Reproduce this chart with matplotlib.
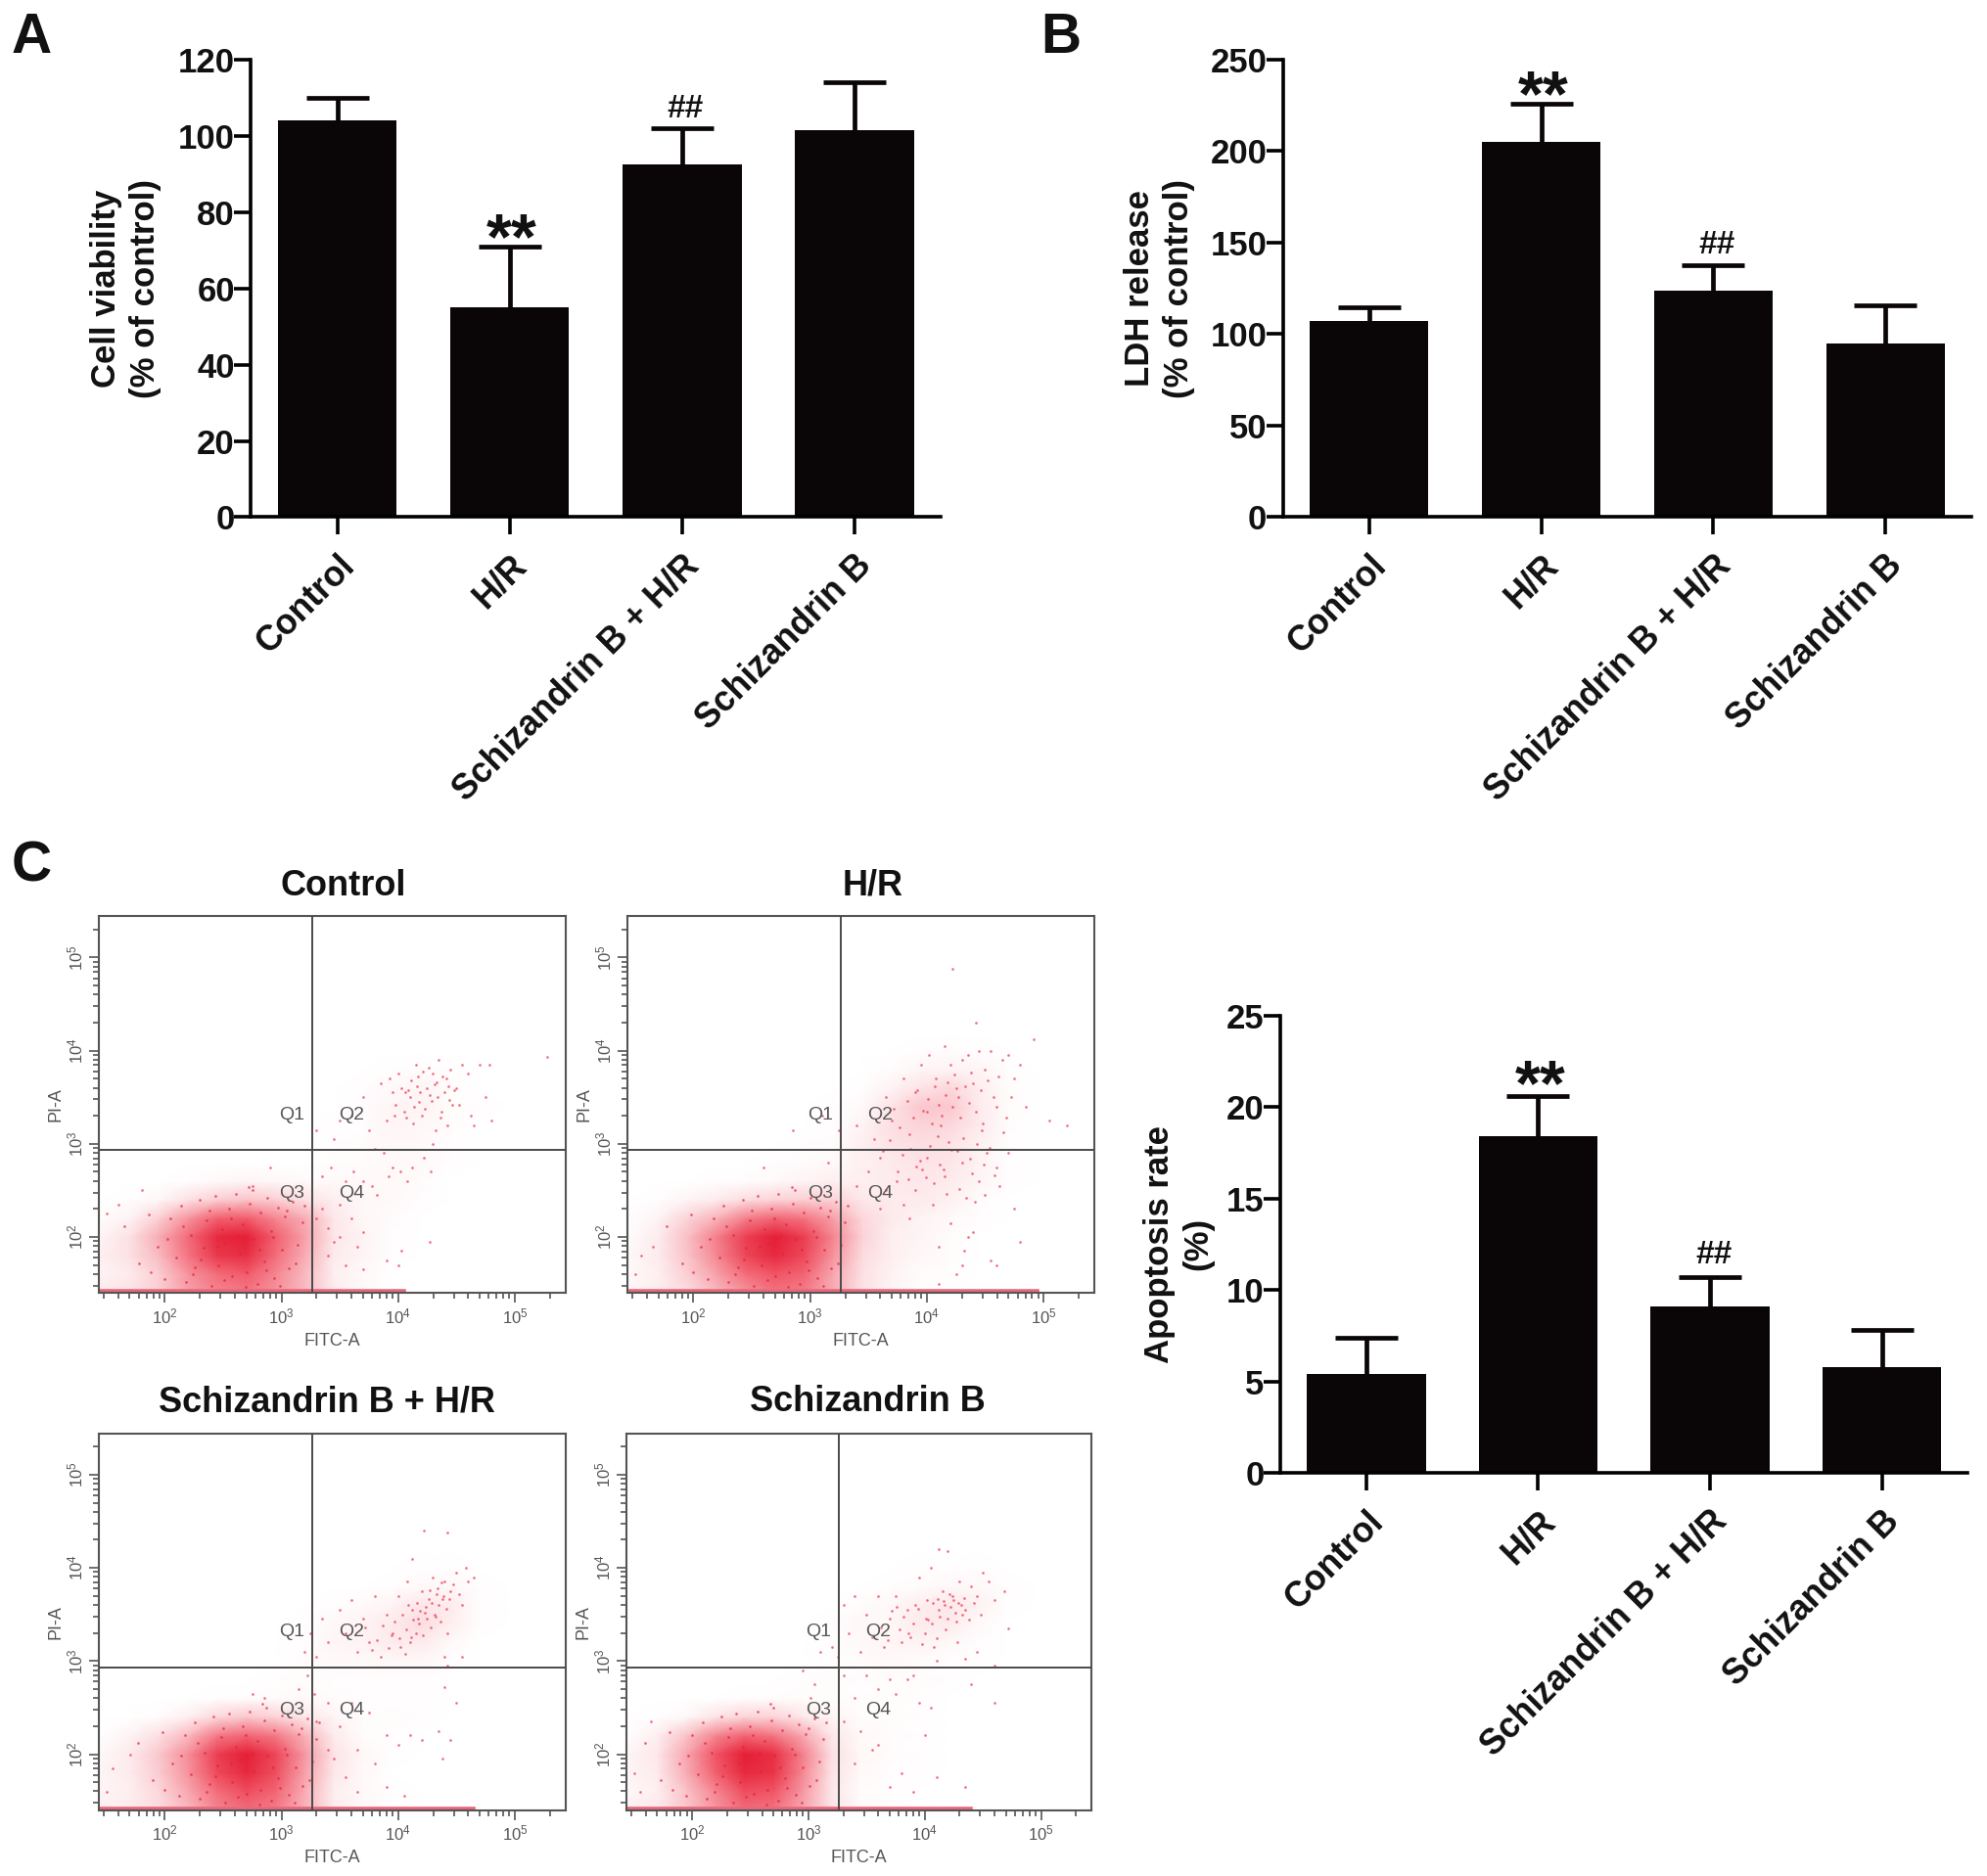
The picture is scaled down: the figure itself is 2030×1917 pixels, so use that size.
import numpy as np
import matplotlib
matplotlib.use("Agg")
import matplotlib.pyplot as plt
from matplotlib.colors import LinearSegmentedColormap
from matplotlib.transforms import ScaledTranslation

plt.rcParams['font.family'] = ['Liberation Sans', 'DejaVu Sans']
plt.rcParams['mathtext.default'] = 'regular'

W, H = 2031, 1917
S = 2031 / 1568  # positions below were read on a 1568 wide view

groups = ["Control", "H/R", "Schizandrin B + H/R", "Schizandrin B"]

viability = [104, 55, 92.5, 101.5]
viability_top = [110, 71, 102, 114]
ldh = [107, 205, 123.5, 95]
ldh_top = [114.5, 226, 137.5, 115.5]
apoptosis = [5.4, 18.4, 9.1, 5.8]
apoptosis_top = [7.4, 20.6, 10.7, 7.8]

# flow cytometry: density, log10 units, rows go upward
grid_x = [1.45, 1.7, 1.95, 2.2, 2.45, 2.7, 2.95, 3.2, 3.45, 3.7, 3.95, 4.2, 4.45, 4.7, 4.95]
grid_y = [1.4, 1.6, 1.8, 2.0, 2.2, 2.4, 2.6, 2.8, 3.0, 3.2, 3.4, 3.6, 3.8, 4.0, 4.2]

dens_control = [
    [12, 15, 25, 45, 55, 60, 50, 35, 10, 4, 0, 0, 0, 0, 0],
    [6, 10, 25, 50, 65, 72, 55, 35, 8, 3, 0, 0, 0, 0, 0],
    [8, 15, 35, 62, 88, 92, 65, 40, 10, 5, 1, 0, 0, 0, 0],
    [6, 15, 40, 66, 95, 100, 70, 45, 12, 6, 1, 0, 0, 0, 0],
    [2, 6, 25, 50, 70, 72, 55, 40, 12, 4, 2, 0, 0, 0, 0],
    [0, 1, 4, 15, 25, 30, 25, 15, 8, 4, 3, 1, 0, 0, 0],
    [0, 0, 0, 1, 3, 5, 4, 3, 3, 3, 3, 2, 0, 0, 0],
    [0, 0, 0, 0, 0, 0, 0, 0, 2, 2, 3, 3, 1, 0, 0],
    [0, 0, 0, 0, 0, 0, 0, 0, 1, 2, 4, 3, 1, 0, 0],
    [0, 0, 0, 0, 0, 0, 0, 0, 1, 1, 5, 4, 2, 0, 0],
    [0, 0, 0, 0, 0, 0, 0, 0, 0, 1, 5, 6, 2, 1, 0],
    [0, 0, 0, 0, 0, 0, 0, 0, 0, 1, 3, 5, 2, 0, 0],
    [0, 0, 0, 0, 0, 0, 0, 0, 0, 0, 1, 2, 1, 0, 0],
    [0, 0, 0, 0, 0, 0, 0, 0, 0, 0, 0, 0, 0, 0, 0],
    [0, 0, 0, 0, 0, 0, 0, 0, 0, 0, 0, 0, 0, 0, 0],
]
dens_hr = [
    [6, 10, 18, 35, 50, 62, 58, 40, 15, 6, 2, 0, 0, 0, 0],
    [3, 8, 25, 45, 65, 75, 68, 42, 15, 6, 2, 1, 0, 0, 0],
    [4, 10, 30, 55, 82, 95, 80, 50, 18, 8, 4, 2, 0, 0, 0],
    [2, 10, 32, 58, 85, 100, 85, 55, 22, 8, 5, 2, 0, 0, 0],
    [1, 6, 22, 38, 58, 68, 62, 45, 20, 10, 6, 3, 1, 0, 0],
    [0, 1, 5, 10, 18, 22, 25, 22, 12, 10, 10, 7, 2, 0, 0],
    [0, 0, 0, 1, 2, 3, 6, 8, 8, 10, 12, 10, 5, 1, 0],
    [0, 0, 0, 0, 0, 1, 2, 3, 7, 11, 14, 13, 6, 1, 0],
    [0, 0, 0, 0, 0, 0, 1, 2, 8, 14, 16, 14, 7, 1, 0],
    [0, 0, 0, 0, 0, 0, 0, 1, 6, 16, 22, 20, 10, 2, 0],
    [0, 0, 0, 0, 0, 0, 0, 1, 3, 14, 28, 28, 10, 2, 0],
    [0, 0, 0, 0, 0, 0, 0, 0, 1, 6, 14, 20, 9, 2, 0],
    [0, 0, 0, 0, 0, 0, 0, 0, 0, 2, 5, 6, 5, 1, 0],
    [0, 0, 0, 0, 0, 0, 0, 0, 0, 0, 1, 2, 1, 0, 0],
    [0, 0, 0, 0, 0, 0, 0, 0, 0, 0, 0, 0, 0, 0, 0],
]
dens_sbhr = [
    [8, 10, 18, 35, 55, 65, 58, 38, 10, 4, 1, 0, 0, 0, 0],
    [5, 8, 20, 42, 65, 78, 68, 40, 8, 3, 1, 0, 0, 0, 0],
    [5, 10, 26, 50, 80, 95, 78, 45, 12, 3, 0, 0, 0, 0, 0],
    [4, 10, 28, 52, 85, 100, 82, 48, 14, 4, 1, 0, 0, 0, 0],
    [1, 6, 16, 35, 60, 68, 60, 38, 10, 2, 1, 0, 0, 0, 0],
    [0, 0, 2, 8, 20, 28, 22, 12, 5, 2, 2, 1, 0, 0, 0],
    [0, 0, 0, 0, 1, 2, 2, 3, 2, 1, 1, 1, 0, 0, 0],
    [0, 0, 0, 0, 0, 0, 1, 2, 1, 1, 1, 1, 0, 0, 0],
    [0, 0, 0, 0, 0, 0, 0, 2, 3, 3, 4, 4, 1, 0, 0],
    [0, 0, 0, 0, 0, 0, 0, 1, 5, 6, 10, 10, 3, 0, 0],
    [0, 0, 0, 0, 0, 0, 0, 1, 4, 6, 11, 18, 9, 1, 0],
    [0, 0, 0, 0, 0, 0, 0, 0, 1, 3, 6, 12, 10, 1, 0],
    [0, 0, 0, 0, 0, 0, 0, 0, 0, 0, 1, 3, 4, 1, 0],
    [0, 0, 0, 0, 0, 0, 0, 0, 0, 0, 0, 1, 1, 0, 0],
    [0, 0, 0, 0, 0, 0, 0, 0, 0, 0, 0, 0, 0, 0, 0],
]
dens_sb = [
    [8, 12, 28, 48, 65, 62, 42, 14, 4, 2, 1, 0, 0, 0, 0],
    [4, 8, 30, 55, 78, 75, 48, 12, 2, 1, 0, 0, 0, 0, 0],
    [5, 10, 40, 70, 95, 90, 55, 14, 3, 1, 1, 0, 0, 0, 0],
    [5, 12, 42, 75, 100, 92, 58, 16, 4, 2, 1, 0, 0, 0, 0],
    [1, 8, 30, 55, 68, 62, 42, 12, 3, 2, 1, 0, 0, 0, 0],
    [0, 1, 4, 14, 22, 22, 12, 5, 2, 2, 1, 0, 0, 0, 0],
    [0, 0, 0, 0, 1, 2, 2, 2, 1, 2, 1, 0, 0, 0, 0],
    [0, 0, 0, 0, 0, 0, 1, 2, 1, 2, 2, 1, 0, 0, 0],
    [0, 0, 0, 0, 0, 0, 0, 1, 2, 3, 2, 1, 1, 0, 0],
    [0, 0, 0, 0, 0, 0, 0, 1, 3, 5, 6, 4, 1, 0, 0],
    [0, 0, 0, 0, 0, 0, 0, 1, 4, 4, 10, 11, 3, 0, 0],
    [0, 0, 0, 0, 0, 0, 0, 0, 2, 4, 9, 12, 7, 1, 0],
    [0, 0, 0, 0, 0, 0, 0, 0, 0, 1, 2, 4, 4, 1, 0],
    [0, 0, 0, 0, 0, 0, 0, 0, 0, 0, 1, 1, 1, 0, 0],
    [0, 0, 0, 0, 0, 0, 0, 0, 0, 0, 0, 0, 0, 0, 0],
]

# single events that stand out (log10 FITC, log10 PI)
pts_control_x = [3.3, 3.45, 3.5, 3.6, 3.7, 3.75, 3.85, 3.9, 3.95, 3.8, 3.88, 4.0, 4.05, 4.1, 4.15, 4.18, 4.2, 4.25, 4.3, 4.32,
                 4.35, 4.4, 4.42, 4.45, 4.5, 4.55, 4.6, 4.65, 4.7, 4.75, 5.28, 4.78, 3.95, 4.02, 4.08, 4.12, 4.22, 4.28, 3.78, 3.92,
                 3.35, 3.42, 3.55, 3.62, 3.7, 3.82, 3.3, 3.4, 3.5, 3.65, 3.4, 3.55, 3.7, 3.9, 4.0, 4.03, 4.27, 4.3, 4.62, 4.8,
                 2.9, 2.75, 1.8, 1.6, 1.5, 3.35, 3.5, 3.45, 3.6, 3.7,
                 3.98, 4.03, 4.07, 4.11, 4.14, 4.17, 4.23, 4.27, 4.33, 4.37, 4.41, 4.44, 4.48, 4.52, 3.93, 3.97, 4.06, 4.16, 4.21, 4.29,
                 4.34, 4.38, 4.46, 4.09, 4.13, 4.19, 4.26, 4.31, 4.36, 4.43]
pts_control_y = [3.15, 3.05, 3.25, 3.3, 3.5, 3.15, 3.65, 3.25, 3.55, 2.95, 2.9, 3.75, 3.35, 3.5, 3.85, 3.45, 3.3, 3.6, 3.75, 3.15,
                 3.9, 3.55, 3.2, 3.8, 3.6, 3.85, 3.75, 3.2, 3.85, 3.5, 3.93, 3.85, 2.75, 2.7, 2.6, 2.75, 2.85, 2.7, 2.55, 2.65,
                 2.65, 2.75, 2.6, 2.7, 2.6, 2.45, 2.2, 2.1, 2.0, 1.9, 1.8, 1.7, 1.65, 1.75, 1.7, 1.85, 1.95, 3.0, 3.3, 3.25,
                 2.75, 2.55, 2.5, 2.35, 2.25, 2.3, 2.35, 1.95, 2.2, 2.05,
                 3.42, 3.6, 3.28, 3.68, 3.4, 3.72, 3.38, 3.52, 3.66, 3.35, 3.7, 3.47, 3.58, 3.42, 3.7, 3.3, 3.55, 3.62, 3.78, 3.46,
                 3.5, 3.72, 3.42, 3.58, 3.22, 3.56, 3.82, 3.64, 3.28, 3.62]
pts_hr_x = [3.25, 3.4, 3.55, 3.65, 3.7, 3.8, 3.85, 3.9, 3.95, 4.0, 4.02, 4.08, 4.12, 4.15, 4.2, 4.25, 4.3, 4.35, 4.4, 4.45,
            4.5, 4.55, 4.6, 4.65, 4.7, 4.75, 4.8, 4.85, 4.92, 5.05, 4.22, 4.42, 5.2, 3.6, 3.75, 3.9, 4.05, 4.2, 4.35, 4.5,
            4.6, 4.7, 3.5, 3.65, 3.8, 4.0, 4.15, 4.3, 4.45, 4.62, 4.75, 3.4, 3.6, 3.85, 4.1, 4.3, 4.55, 4.25, 4.32, 4.4,
            2.85, 3.1, 3.15, 2.6, 1.65, 1.55, 1.5, 4.1, 4.6, 4.8,
            3.72, 3.77, 3.83, 3.88, 3.92, 3.97, 4.01, 4.04, 4.07, 4.1, 4.13, 4.16, 4.18, 4.22, 4.24, 4.27, 4.29, 4.33, 4.36, 4.38,
            4.42, 4.46, 4.48, 4.52, 4.57, 4.61, 4.66, 3.86, 3.94, 4.03, 4.09, 4.14, 4.19, 4.26, 4.31, 4.37, 4.43, 4.49, 4.54, 3.74,
            3.84, 3.96, 4.06, 4.17, 4.28, 4.34, 4.41, 4.51, 3.62, 3.68, 3.79, 3.91, 3.99, 4.11, 4.21, 4.39, 4.47, 4.58, 4.68, 4.72]
pts_hr_y = [3.15, 3.2, 3.05, 3.5, 3.25, 3.7, 3.1, 3.55, 3.85, 3.35, 3.95, 3.7, 3.2, 4.05, 3.85, 3.6, 3.9, 3.95, 3.65, 4.0,
            3.8, 4.0, 3.4, 3.9, 3.95, 3.7, 3.85, 3.4, 4.12, 3.25, 4.88, 4.3, 3.2, 2.85, 2.7, 2.5, 2.35, 2.15, 2.0, 2.45,
            2.75, 2.9, 2.7, 2.5, 2.35, 2.85, 2.65, 2.8, 2.6, 2.55, 2.3, 2.55, 2.3, 2.2, 1.9, 1.7, 1.75, 1.6, 1.85, 2.05,
            3.15, 3.3, 2.8, 2.75, 1.9, 1.8, 1.6, 1.5, 1.7, 1.95,
            3.38, 3.18, 3.46, 3.28, 3.58, 3.36, 3.48, 3.22, 3.62, 3.42, 3.3, 3.52, 3.66, 3.4, 3.74, 3.5, 3.28, 3.62, 3.44, 3.76,
            3.34, 3.58, 3.22, 3.68, 3.5, 3.72, 3.12, 2.95, 2.82, 2.98, 3.08, 2.72, 3.02, 2.92, 3.06, 2.84, 3.0, 2.78, 2.96, 2.6,
            2.62, 2.72, 2.58, 2.46, 2.52, 2.42, 2.38, 2.9, 2.92, 3.04, 2.88, 2.76, 2.64, 2.78, 2.94, 2.68, 3.14, 2.66, 3.28, 3.5]
pts_sbhr_x = [3.25, 3.3, 3.35, 3.4, 3.5, 3.55, 3.6, 3.65, 3.7, 3.75, 3.8, 3.85, 3.9, 3.95, 4.0, 4.02, 4.08, 4.12, 4.15, 4.2,
              4.25, 4.3, 4.35, 4.4, 4.42, 4.45, 4.5, 4.55, 4.58, 4.6, 4.4, 4.65, 4.12, 4.22, 4.42, 3.2, 3.22, 3.15, 3.28, 3.4,
              3.6, 3.75, 3.9, 4.0, 4.2, 4.35, 4.4, 4.42, 4.5, 4.55, 3.5, 3.65, 3.8, 3.9, 4.05, 4.1, 4.38, 4.45, 3.3, 3.4,
              3.45, 3.55, 3.65, 2.75, 2.85, 1.55, 1.7, 1.5,
              3.82, 3.87, 3.92, 3.97, 4.01, 4.04, 4.07, 4.1, 4.13, 4.16, 4.18, 4.21, 4.23, 4.26, 4.28, 4.31, 4.33, 4.36, 4.38, 4.41,
              4.44, 4.47, 4.52, 4.06, 4.11, 4.17, 4.24, 4.29, 4.34, 4.39, 3.72, 3.78, 3.94, 4.09, 4.19, 4.27, 4.32, 4.37]
pts_sbhr_y = [3.3, 3.05, 3.45, 3.2, 3.55, 3.3, 3.65, 3.1, 3.45, 3.2, 3.7, 3.05, 3.5, 3.3, 3.7, 3.15, 3.85, 3.55, 3.3, 3.75,
              3.45, 3.9, 3.6, 3.85, 3.3, 3.75, 3.95, 3.6, 4.0, 3.85, 3.05, 3.9, 4.1, 4.4, 4.38, 3.1, 2.85, 2.7, 2.65, 2.55,
              2.55, 2.45, 2.2, 2.1, 2.15, 2.25, 2.72, 2.95, 2.55, 3.05, 2.3, 2.05, 1.9, 1.65, 1.55, 2.2, 1.95, 2.15, 2.35, 2.05,
              1.95, 1.75, 1.6, 2.65, 2.6, 1.85, 2.0, 1.6,
              3.22, 3.38, 3.14, 3.42, 3.24, 3.5, 3.34, 3.2, 3.44, 3.62, 3.4, 3.28, 3.52, 3.66, 3.36, 3.5, 3.72, 3.42, 3.66, 3.56,
              3.66, 3.82, 3.72, 3.08, 3.26, 3.46, 3.58, 3.62, 3.78, 3.7, 3.36, 3.12, 3.28, 3.6, 3.54, 3.76, 3.48, 3.84]
pts_sb_x = [3.2, 3.25, 3.3, 3.35, 3.4, 3.45, 3.5, 3.55, 3.6, 3.65, 3.7, 3.75, 3.8, 3.85, 3.9, 3.95, 4.0, 4.02, 4.05, 4.08,
            4.12, 4.15, 4.2, 4.25, 4.28, 4.3, 4.35, 4.4, 4.45, 4.5, 4.55, 4.6, 4.68, 4.72, 4.12, 4.2, 3.3, 3.5, 3.7, 3.9, 4.1,
            4.35, 4.45, 4.6, 3.1, 3.05, 2.95, 3.02, 3.4, 3.6, 3.75, 3.85, 3.95, 4.05, 4.4, 4.6, 3.3, 3.45, 3.6, 3.8, 3.9,
            4.0, 4.1, 4.35, 3.4, 3.55, 3.7, 1.65, 1.5, 1.55,
            3.62, 3.68, 3.72, 3.78, 3.82, 3.88, 3.92, 3.98, 4.03, 4.07, 4.1, 4.13, 4.16, 4.18, 4.22, 4.24, 4.27, 4.29, 4.32, 4.34,
            4.38, 4.42, 4.48, 4.06, 4.11, 4.17, 4.21, 4.26, 4.31, 3.94, 4.01, 3.86, 3.76]
pts_sb_y = [3.15, 3.05, 3.6, 3.3, 3.7, 3.1, 3.5, 3.25, 3.7, 3.15, 3.45, 3.7, 3.2, 3.55, 3.4, 3.9, 3.3, 3.65, 4.0, 3.15,
            3.55, 3.75, 3.45, 3.65, 3.2, 3.85, 3.55, 3.8, 3.7, 3.95, 3.85, 3.65, 3.75, 3.35, 4.2, 4.18, 2.85, 2.85, 2.8, 2.85, 3.0,
            3.02, 3.1, 2.95, 3.1, 2.75, 2.9, 2.6, 2.6, 2.7, 2.65, 2.8, 2.55, 2.5, 2.75, 2.55, 2.35, 2.25, 2.1, 1.8, 1.6,
            2.2, 1.75, 1.65, 1.9, 2.05, 1.65, 2.35, 1.8, 1.6,
            3.36, 3.22, 3.54, 3.34, 3.48, 3.26, 3.6, 3.18, 3.44, 3.62, 3.24, 3.48, 3.64, 3.34, 3.58, 3.7, 3.42, 3.62, 3.5, 3.68,
            3.44, 3.62, 3.5, 3.4, 3.66, 3.6, 3.72, 3.52, 3.6, 3.56, 3.46, 3.3, 3.58]

# dots over the main cloud in Q3, shared spread read from the lower left
blob_dx = [-0.95, -0.82, -0.74, -0.66, -0.6, -0.55, -0.5, -0.46, -0.42, -0.38, -0.34, -0.3, -0.27, -0.24, -0.2, -0.17, -0.14, -0.11, -0.08, -0.05,
           -0.02, 0.01, 0.04, 0.07, 0.1, 0.13, 0.16, 0.19, 0.22, 0.25, 0.28, 0.31, 0.34, 0.37, 0.4, 0.43, 0.46, 0.5, 0.54, 0.58,
           -0.72, -0.58, -0.44, -0.36, -0.29, -0.22, -0.15, -0.09, -0.03, 0.03, 0.09, 0.15, 0.21, 0.27, 0.33, 0.39, 0.45, 0.52, 0.6, 0.12]
blob_y = [2.12, 1.72, 2.24, 1.9, 1.55, 2.2, 1.78, 2.34, 1.52, 2.02, 1.68, 2.4, 1.88, 2.18, 1.48, 2.44, 1.7, 2.08, 1.94, 2.3,
          1.58, 2.46, 1.82, 2.14, 1.62, 2.36, 1.98, 1.5, 2.26, 1.74, 2.42, 2.06, 1.56, 2.32, 1.86, 2.22, 1.66, 2.38, 1.92, 2.16,
          1.62, 1.98, 2.12, 1.6, 1.76, 2.28, 1.9, 1.54, 2.2, 2.02, 1.46, 2.5, 1.86, 1.64, 2.0, 1.48, 2.28, 1.72, 2.34, 2.54]

# centre of the main cloud per panel and how far the pile-up along the lower edge reaches
blob_centre = {"control": 2.6, "hr": 2.72, "sbhr": 2.72, "sb": 2.55}
rail_end = {"control": 4.05, "hr": 4.95, "sbhr": 4.65, "sb": 4.4}


def box(x0, y0, x1, y1):
    # x0,y0 top left, x1,y1 bottom right in the 1568 wide view
    return [x0 * S / W, 1 - y1 * S / H, (x1 - x0) * S / W, (y1 - y0) * S / H]


fig = plt.figure(figsize=(W / 100, H / 100), dpi=100, facecolor="white")


def bar_panel(rect, values, tops, ymax, step, ylab, star_gap, hash_gap, lab_x):
    ax = fig.add_axes(rect)
    pos = np.arange(1, 5)
    err = np.array(tops) - np.array(values)
    ax.bar(pos, values, width=0.69, color="#0a0506", zorder=2)
    _, caps, _ = ax.errorbar(pos, values, yerr=[np.zeros(4), err], fmt="none", ecolor="#0a0506",
                             elinewidth=3.4, capsize=23, capthick=3.4, zorder=1)
    caps[0].set_visible(False)
    ax.set_xlim(0.5, 4.5)
    ax.set_ylim(0, ymax)
    ax.set_yticks(np.arange(0, ymax + step, step))
    ax.set_xticks(pos)
    ax.set_xticklabels(groups, rotation=45, ha="right", va="top", rotation_mode="anchor",
                       fontsize=25.7, fontweight="bold", color="#111111")
    # labels sit a little left of their ticks
    shift = ScaledTranslation(-3.6 / 72, 0, fig.dpi_scale_trans)
    for t in ax.get_xticklabels():
        t.set_transform(t.get_transform() + shift)
    ax.tick_params(axis="y", length=12.5, width=2.6, labelsize=25, pad=-0.5)
    ax.tick_params(axis="x", length=13, width=2.6, pad=10)
    for t in ax.get_yticklabels():
        t.set_fontweight("bold")
        t.set_color("#111111")
    for s in ["top", "right"]:
        ax.spines[s].set_visible(False)
    for s in ["left", "bottom"]:
        ax.spines[s].set_linewidth(2.6)
    ax.set_ylabel(ylab, fontsize=25, fontweight="bold", color="#111111", linespacing=1.25)
    ax.yaxis.set_label_coords(lab_x, 0.5)
    ax.patch.set_alpha(0)
    ax.text(2.01, tops[1] + star_gap, "**", ha="center", va="center", fontsize=48, fontweight="bold", color="#111111")
    ax.text(3.02, tops[2] + hash_gap, "##", ha="center", va="center", fontsize=24, fontweight="bold", color="#111111")
    return ax


cmap = LinearSegmentedColormap.from_list("flow", ["#ffffff", "#f9b9c0", "#f2606f", "#e3132c"])


def flow_panel(rect, dens, px, py, centre, rail):
    ax = fig.add_axes(rect)
    X, Y = np.meshgrid(10 ** np.array(grid_x), 10 ** np.array(grid_y))
    ax.set_xscale("log")
    ax.set_yscale("log")
    ax.pcolormesh(X, Y, np.array(dens), cmap=cmap, vmin=0, vmax=105, shading="gouraud", zorder=1, rasterized=True)
    ax.plot(10 ** np.array(px), 10 ** np.array(py), ls="none", marker="o", ms=1.9, mew=0,
            color="#e8324a", alpha=0.7, zorder=2)
    ax.plot(10 ** (centre + np.array(blob_dx)), 10 ** np.array(blob_y), ls="none", marker="o", ms=1.9, mew=0,
            color="#e01f3a", alpha=0.7, zorder=2)
    ax.plot([10 ** 1.44, 10 ** rail], [10 ** 1.42, 10 ** 1.42], color="#e8687a", lw=2.6, zorder=2)
    ax.set_xlim(10 ** 1.435, 10 ** 5.435)
    ax.set_ylim(10 ** 1.40, 10 ** 5.44)
    ax.axvline(10 ** 3.264, color="#4a4a4a", lw=1.4, zorder=3)
    ax.axhline(10 ** 2.93, color="#4a4a4a", lw=1.4, zorder=3)
    ax.set_xticks([1e2, 1e3, 1e4, 1e5])
    ax.set_yticks([1e2, 1e3, 1e4, 1e5])
    ax.set_xticklabels(["$10^{%d}$" % i for i in range(2, 6)])
    ax.set_yticklabels(["$10^{%d}$" % i for i in range(2, 6)], rotation=90, va="center")
    ax.tick_params(which="major", length=7, width=1.2, labelsize=12, colors="#555555", pad=3)
    ax.tick_params(which="minor", length=4, width=1.2, colors="#555555")
    for s in ax.spines.values():
        s.set_color("#555555")
        s.set_linewidth(1.5)
    ax.set_xlabel("FITC-A", fontsize=13, color="#555555", labelpad=5)
    ax.set_ylabel("PI-A", fontsize=13, color="#555555", labelpad=1)
    for name, qx, qy in [("Q1", 3.09, 3.31), ("Q2", 3.6, 3.31), ("Q3", 3.09, 2.47), ("Q4", 3.6, 2.47)]:
        ax.text(10 ** qx, 10 ** qy, name, ha="center", va="center", fontsize=14, color="#555555", zorder=4)
    return ax


bar_panel(box(198, 47, 742, 408), viability, viability_top, 120, 20,
          "Cell viability\n(% of control)", 1.2, 5, -0.13)
bar_panel(box(1012, 47, 1555, 408), ldh, ldh_top, 250, 50,
          "LDH release\n(% of control)", 2.5, 11, -0.128)
bar_panel(box(1010, 801, 1552, 1162), apoptosis, apoptosis_top, 25, 5,
          "Apoptosis rate\n(%)", 0.4, 1.2, -0.097)

flow_panel(box(78, 723, 446, 1020), dens_control, pts_control_x, pts_control_y, blob_centre["control"], rail_end["control"])
flow_panel(box(495, 723, 863, 1020), dens_hr, pts_hr_x, pts_hr_y, blob_centre["hr"], rail_end["hr"])
flow_panel(box(78, 1131, 446, 1428), dens_sbhr, pts_sbhr_x, pts_sbhr_y, blob_centre["sbhr"], rail_end["sbhr"])
flow_panel(box(494, 1131, 861, 1428), dens_sb, pts_sb_x, pts_sb_y, blob_centre["sb"], rail_end["sb"])

for name, x, y in [("Control", 271, 699), ("H/R", 688, 699),
                   ("Schizandrin B + H/R", 258, 1106), ("Schizandrin B", 684, 1106)]:
    fig.text(x * S / W, 1 - y * S / H, name, ha="center", va="center", fontsize=26, fontweight="bold", color="#111111")

for name, x, y in [("A", 25, 30), ("B", 837, 30), ("C", 25, 684)]:
    fig.text(x * S / W, 1 - y * S / H, name, ha="center", va="center", fontsize=41, fontweight="bold", color="#111111")

fig.savefig("out.png", dpi=100, facecolor="white")
